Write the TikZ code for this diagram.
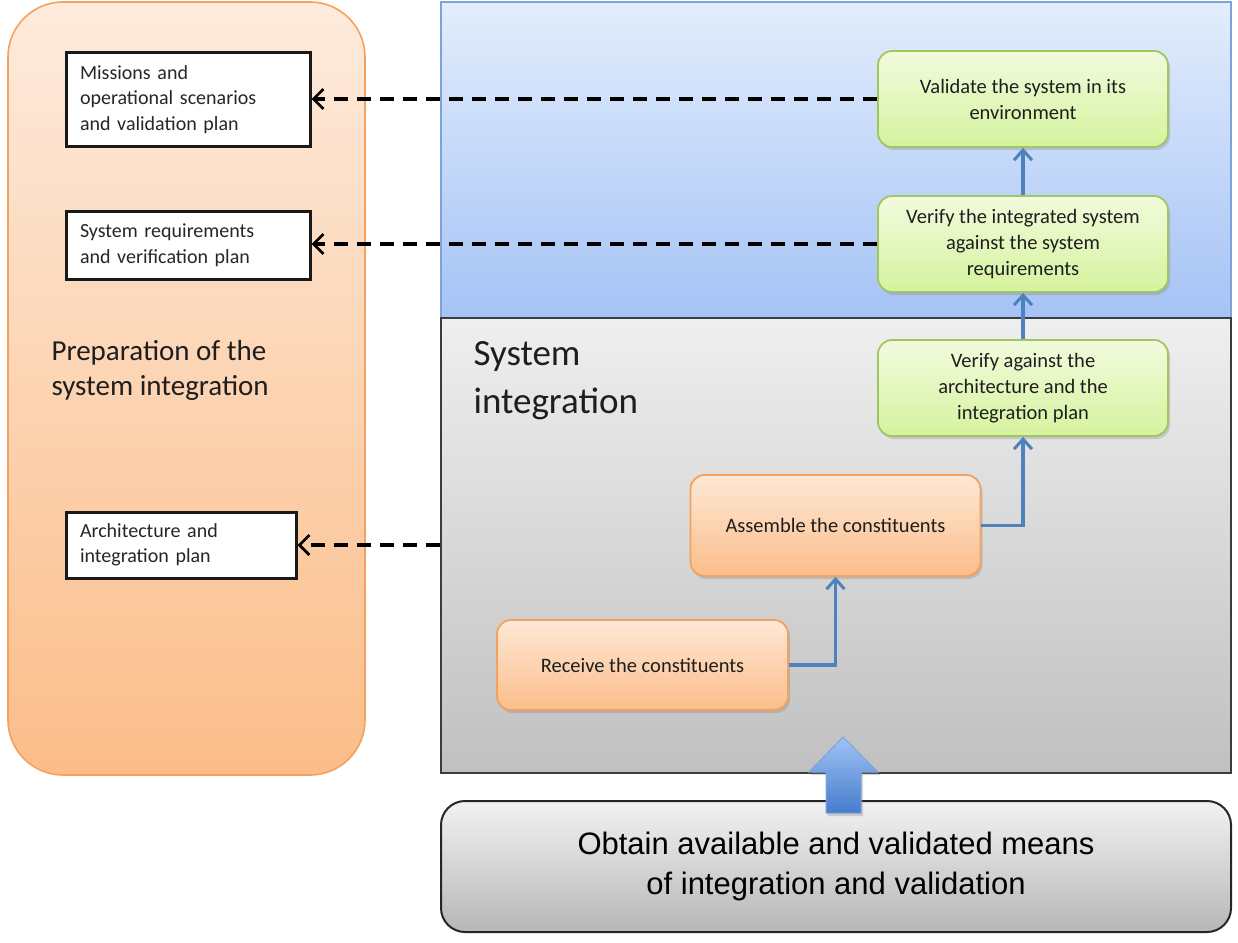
\documentclass[tikz,border=0pt]{standalone}
\usepackage{fontspec}
\setmainfont{Carlito}
\newfontfamily\arialf{Liberation Sans}
\usetikzlibrary{arrows.meta,shadows}
\definecolor{gTop}{HTML}{F2FBDD}
\definecolor{gBot}{HTML}{D5F39E}
\definecolor{gBrd}{HTML}{A3C463}
\definecolor{oTop}{HTML}{FEE8D6}
\definecolor{oBot}{HTML}{FBBE8A}
\definecolor{oBrd}{HTML}{F4A05E}
\definecolor{bTop}{HTML}{E3EDFC}
\definecolor{bBot}{HTML}{A5C3F6}
\definecolor{bBrd}{HTML}{7EA3DA}
\definecolor{grTop}{HTML}{EFEFEF}
\definecolor{grBot}{HTML}{C0C0C0}
\definecolor{grBrd}{HTML}{3C3C3C}
\definecolor{pTop}{HTML}{FDEBDD}
\definecolor{pBot}{HTML}{FBBD89}
\definecolor{arrBlue}{HTML}{4F81BD}
\definecolor{bigTop}{HTML}{A0C2F6}
\definecolor{bigBot}{HTML}{467DCC}
\definecolor{txt}{HTML}{1E1E1E}
\tikzset{
  procbox/.style={line width=1.8pt, rounded corners=14pt, minimum width=290pt,
    align=center, text=txt, font=\fontsize{20.5}{26}\selectfont,
    drop shadow={opacity=0.3, shadow xshift=2pt, shadow yshift=-3pt}},
  greenbox/.style={procbox, draw=gBrd, top color=gTop, bottom color=gBot, minimum height=96pt},
  orangebox/.style={procbox, draw=oBrd, top color=oTop, bottom color=oBot},
  docbox/.style={draw=black!90, line width=3pt, fill=white, align=left, text=black!85,
    font=\fontsize{20}{25.5}\selectfont, inner xsep=14pt},
  dasharrow/.style={draw=black, line width=3.5pt, dash pattern=on 14pt off 9pt,
    -{Straight Barb[length=10pt,width=20pt,line width=2.8pt]}},
  flowarrow/.style={draw=arrBlue, line width=3.5pt,
    -{Straight Barb[length=10pt,width=18pt,line width=3pt]}}
}
\begin{document}
\begin{tikzpicture}[x=1pt,y=-1pt]
\useasboundingbox (0,0) rectangle (1238,942);
% left preparation region
\node[draw=oBrd, line width=1.6pt, rounded corners=55pt, top color=pTop, bottom color=pBot,
  minimum width=357pt, minimum height=773pt] (prep) at (186.5,388.5) {};
\node[anchor=west, align=left, text=txt, font=\fontsize{29}{35}\selectfont] (preptxt) at (48,370)
  {Preparation of the\\system integration};
% right regions
\node[draw=bBrd, line width=1.5pt, top color=bTop, bottom color=bBot,
  minimum width=790pt, minimum height=316pt] (valreg) at (836,160) {};
\node[draw=grBrd, line width=2.5pt, top color=grTop, bottom color=grBot,
  minimum width=790pt, minimum height=455pt] (sysint) at (836,545.5) {};
\node[anchor=west, align=left, text=txt, font=\fontsize{37}{48}\selectfont] (systxt) at (470,381)
  {System\\integration};
% bottom means box
\node[draw=black!85, line width=2pt, rounded corners=24pt, top color=grTop!80!white, bottom color=grBot!95!black,
  minimum width=790pt, minimum height=131pt, align=center, text=black,
  font=\arialf\fontsize{31}{40}\selectfont] (means) at (836,866.5)
  {Obtain available and validated means\\of integration and validation};
% big blue arrow
\path[draw=bBrd, line width=1pt, top color=bigTop, bottom color=bigBot,
  drop shadow={opacity=0.3, shadow xshift=2pt, shadow yshift=-3pt}]
  (843,737) -- (878,772) -- (861,772) -- (861,813) -- (826,813) -- (826,772) -- (809,772) -- cycle;
% process nodes
\node[greenbox] (val) at (1023,99) {Validate the system in its\\environment};
\node[greenbox] (vint) at (1023,244) {Verify the integrated system\\against the system\\requirements};
\node[greenbox] (varch) at (1023,388) {Verify against the\\architecture and the\\integration plan};
\node[orangebox, minimum height=101pt] (asm) at (835.5,525.5) {Assemble the constituents};
\node[orangebox, minimum height=90pt, minimum width=291pt] (recv) at (642.5,665) {Receive the constituents};
% documents
\node[docbox, minimum width=244pt, minimum height=93pt, text width=216pt] (miss) at (188,99.5)
  {Missions and\\operational scenarios\\and validation plan};
\node[docbox, minimum width=244pt, minimum height=68pt, text width=216pt] (sreq) at (188,245)
  {System requirements\\and verification plan};
\node[docbox, minimum width=230pt, minimum height=66pt, text width=202pt] (arch) at (181,545)
  {Architecture and\\integration plan};
% flow connectors
\draw[flowarrow] (recv.east) -| (asm.south);
\draw[flowarrow] (asm.east) -| (varch.south);
\draw[flowarrow] (varch.north) -- (vint.south);
\draw[flowarrow] (vint.north) -- (val.south);
% dashed connectors
\draw[dasharrow] (val.west) -- (val.west -| miss.east);
\draw[dasharrow] (vint.west) -- (vint.west -| sreq.east);
\draw[dasharrow] (sysint.west |- arch.east) -- (arch.east);
\end{tikzpicture}
\end{document}
